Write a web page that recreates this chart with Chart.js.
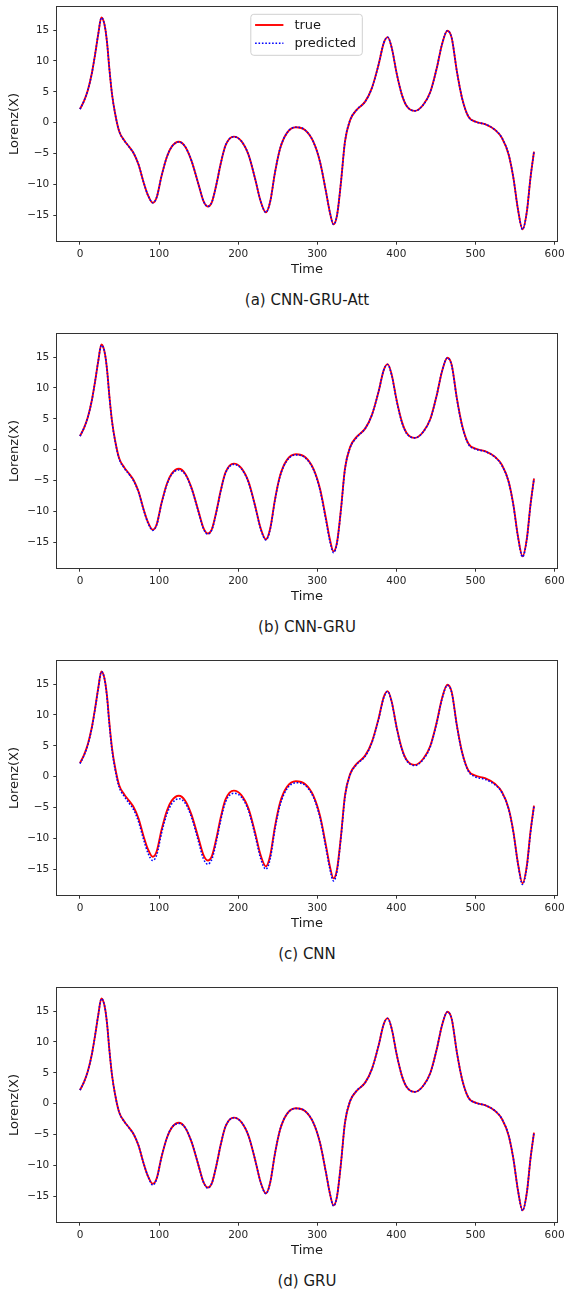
<!DOCTYPE html>
<html>
<head>
<meta charset="utf-8">
<script src="https://cdn.jsdelivr.net/npm/chart.js@4.4.0/dist/chart.umd.min.js"></script>
<style>
html,body{margin:0;padding:0;background:#fff;}
body{width:565px;height:1290px;position:relative;overflow:hidden;font-family:"DejaVu Sans",sans-serif;}
.panel{position:absolute;left:0;width:565px;height:327px;}
.panel canvas{position:absolute;left:0;top:0;}
.cap{position:absolute;left:57px;width:500px;text-align:center;top:291px;font-size:15px;line-height:18px;color:#1a1a1a;}
</style>
</head>
<body>
<div class="panel" style="top:0px"><canvas id="c0" width="565" height="285"></canvas><div class="cap" id="cap0"></div></div>
<div class="panel" style="top:327px"><canvas id="c1" width="565" height="285"></canvas><div class="cap" id="cap1"></div></div>
<div class="panel" style="top:654px"><canvas id="c2" width="565" height="285"></canvas><div class="cap" id="cap2"></div></div>
<div class="panel" style="top:981px"><canvas id="c3" width="565" height="285"></canvas><div class="cap" id="cap3"></div></div>
<script>
// ---- data ----
const T = [
  0, 5, 10, 15, 19, 23, 27, 29.5, 32, 34.5,
  37, 40.5, 44.5, 49.5, 56, 62, 68, 74, 80, 86,
  92, 97, 103, 110, 116, 125, 133, 141, 150, 156,
  161.5, 167, 173, 178, 184, 194.5, 204, 213, 221, 228.5,
  235, 240.5, 246.5, 253, 261.5, 273, 284.5, 295, 303.5, 311,
  316, 320.5, 325, 330, 335, 341.5, 350, 360.5, 369, 377.5,
  384, 389, 394, 400.5, 407, 413, 423.5, 434, 443, 451,
  457.5, 464.5, 470, 476.5, 483, 491, 500, 512, 525, 533.5,
  542, 548, 553.5, 559.5, 565, 569.5, 574
];
const trueX = [
  2.2, 3.5, 5.3, 8.0, 11.0, 14.3, 17.05, 16.6, 15.2, 12.6,
  8.9, 4.6, 1.4, -1.4, -2.9, -3.9, -5.0, -6.8, -9.5, -11.8,
  -13.0, -12.1, -8.7, -5.5, -3.9, -3.1, -3.9, -6.2, -10.1, -12.7,
  -13.6, -12.8, -9.7, -6.6, -3.7, -2.27, -3.0, -5.2, -8.9, -12.8,
  -14.55, -12.8, -8.1, -4.2, -1.7, -0.75, -1.2, -3.1, -6.4, -11.2,
  -14.6, -16.5, -15.0, -9.6, -3.1, 0.4, 2.1, 3.4, 5.6, 9.4,
  12.9, 13.86, 12.2, 7.9, 4.5, 2.7, 1.9, 2.9, 5.0, 8.8,
  12.6, 14.9, 13.7, 8.3, 4.0, 1.0, 0.15, -0.25, -1.2, -2.5,
  -5.2, -9.0, -13.9, -17.3, -14.4, -9.0, -4.7
];
const predAtt = [
  2.2, 3.5, 5.3, 8.0, 11.0, 14.3, 17.0, 16.6, 15.2, 12.6,
  8.9, 4.6, 1.4, -1.4, -2.9, -3.9, -5.0, -6.8, -9.5, -11.8,
  -13.0, -12.1, -8.7, -5.5, -3.9, -3.15, -3.9, -6.2, -10.1, -12.7,
  -13.6, -12.8, -9.7, -6.6, -3.7, -2.3, -3.0, -5.2, -8.9, -12.8,
  -14.55, -12.8, -8.1, -4.2, -1.7, -0.75, -1.2, -3.1, -6.4, -11.2,
  -14.6, -16.5, -15.0, -9.6, -3.1, 0.4, 2.1, 3.4, 5.6, 9.4,
  12.9, 13.85, 12.2, 7.9, 4.5, 2.7, 1.9, 2.9, 5.0, 8.8,
  12.6, 14.9, 13.7, 8.3, 4.0, 1.0, 0.15, -0.25, -1.2, -2.5,
  -5.2, -9.0, -13.9, -17.3, -14.4, -9.0, -4.7
];
const predCnnGru = [
  2.2, 3.5, 5.3, 8.0, 11.0, 14.3, 16.9, 16.6, 15.2, 12.5,
  8.8, 4.5, 1.3, -1.5, -3.0, -4.0, -5.1, -6.9, -9.6, -11.9,
  -13.1, -12.2, -8.8, -5.6, -4.0, -3.3, -4.0, -6.3, -10.2, -12.8,
  -13.7, -12.9, -9.8, -6.7, -3.8, -2.4, -3.1, -5.3, -9.0, -12.9,
  -14.65, -12.9, -8.2, -4.3, -1.8, -0.85, -1.3, -3.2, -6.6, -11.5,
  -14.9, -16.7, -15.1, -9.7, -3.2, 0.3, 2.0, 3.4, 5.6, 9.4,
  12.9, 13.8, 12.1, 7.8, 4.4, 2.6, 1.9, 2.9, 5.0, 8.8,
  12.6, 14.85, 13.6, 8.2, 3.9, 0.9, 0.1, -0.3, -1.25, -2.6,
  -5.3, -9.1, -14.0, -17.4, -14.5, -9.1, -4.7
];
const predCnn = [
  2.1, 3.4, 5.2, 7.9, 10.9, 14.2, 17.0, 16.6, 15.1, 12.4,
  8.6, 4.3, 1.1, -1.7, -3.2, -4.3, -5.4, -7.3, -10.0, -12.4,
  -13.6, -12.7, -9.2, -6.0, -4.4, -3.6, -4.3, -6.6, -10.6, -13.3,
  -14.2, -13.3, -10.1, -7.0, -4.1, -2.7, -3.3, -5.5, -9.3, -13.3,
  -15.0, -13.3, -8.5, -4.6, -2.0, -1.0, -1.4, -3.3, -6.7, -11.6,
  -15.0, -16.9, -15.3, -9.8, -3.3, 0.3, 2.0, 3.3, 5.5, 9.3,
  12.8, 13.8, 12.1, 7.8, 4.4, 2.6, 1.8, 2.8, 4.9, 8.7,
  12.5, 14.8, 13.6, 8.2, 3.9, 0.9, -0.05, -0.45, -1.35, -2.6,
  -5.3, -9.1, -14.0, -17.5, -14.6, -9.2, -4.8
];
const predGru = [
  2.2, 3.5, 5.3, 8.0, 11.0, 14.3, 17.0, 16.6, 15.2, 12.6,
  8.9, 4.6, 1.4, -1.4, -2.9, -3.9, -5.0, -6.8, -9.5, -11.8,
  -13.2, -12.2, -8.7, -5.5, -3.9, -3.2, -3.9, -6.2, -10.1, -12.7,
  -13.7, -12.8, -9.7, -6.6, -3.7, -2.3, -3.0, -5.2, -8.9, -12.8,
  -14.6, -12.8, -8.1, -4.2, -1.7, -0.8, -1.2, -3.1, -6.4, -11.2,
  -14.6, -16.6, -15.0, -9.6, -3.1, 0.4, 2.1, 3.4, 5.6, 9.4,
  12.9, 13.8, 12.2, 7.9, 4.5, 2.7, 1.9, 2.9, 5.0, 8.8,
  12.6, 14.85, 13.7, 8.3, 4.0, 1.0, 0.15, -0.25, -1.2, -2.5,
  -5.2, -9.0, -13.9, -17.35, -14.4, -9.0, -4.7
];
const xTicks = [0, 100, 200, 300, 400, 500, 600];
const yTicks = [-15, -10, -5, 0, 5, 10, 15];
const captions = ['(a) CNN-GRU-Att', '(b) CNN-GRU', '(c) CNN', '(d) GRU'];
const seriesLabels = ['true', 'predicted'];
const xTitle = 'Time';
const yTitle = 'Lorenz(X)';
const predictions = [predAtt, predCnnGru, predCnn, predGru];

// ---- drawing ----
const FONT = '"DejaVu Sans", sans-serif';
const fmt = v => (v < 0 ? '\u2212' + Math.abs(v) : String(v));

const framePlugin = {
  id: 'frame',
  afterDatasetsDraw(chart) {
    const {ctx, chartArea: a} = chart;
    ctx.save();
    ctx.strokeStyle = '#333';
    ctx.lineWidth = 1;
    ctx.strokeRect(Math.round(a.left) - 0.5, Math.round(a.top) - 0.5,
      Math.round(a.right) - Math.round(a.left) + 1, Math.round(a.bottom) - Math.round(a.top) + 1);
    ctx.restore();
  }
};

const boxLegendPlugin = {
  id: 'boxLegend',
  afterDraw(chart, args, opts) {
    if (!opts.show) return;
    const {ctx, chartArea: a} = chart;
    const left = a.left + 193.5, top = a.top + 7, w = 111.5, h = 41;
    ctx.save();
    ctx.beginPath();
    const r = 3;
    ctx.moveTo(left + r, top);
    ctx.arcTo(left + w, top, left + w, top + h, r);
    ctx.arcTo(left + w, top + h, left, top + h, r);
    ctx.arcTo(left, top + h, left, top, r);
    ctx.arcTo(left, top, left + w, top, r);
    ctx.closePath();
    ctx.fillStyle = 'rgba(255,255,255,0.8)';
    ctx.fill();
    ctx.strokeStyle = '#d0d0d0';
    ctx.lineWidth = 1;
    ctx.stroke();
    const rows = [top + 10.7, top + 29];
    chart.data.datasets.forEach((ds, i) => {
      const y = rows[i];
      ctx.beginPath();
      ctx.setLineDash(ds.borderDash || []);
      ctx.strokeStyle = ds.borderColor;
      ctx.lineWidth = ds.borderWidth;
      ctx.moveTo(left + 4.3, y);
      ctx.lineTo(left + 32.6, y);
      ctx.stroke();
      ctx.setLineDash([]);
      ctx.fillStyle = '#1a1a1a';
      ctx.font = '13px ' + FONT;
      ctx.textBaseline = 'middle';
      ctx.textAlign = 'left';
      ctx.fillText(ds.label, left + 43.6, y + 0.5);
    });
    ctx.restore();
  }
};

function makeChart(idx) {
  const pred = predictions[idx];
  document.getElementById('cap' + idx).textContent = captions[idx];
  const ctx = document.getElementById('c' + idx);
  return new Chart(ctx, {
    type: 'line',
    data: {
      datasets: [
        {
          label: seriesLabels[0],
          data: T.map((t, i) => ({x: t, y: trueX[i]})),
          borderColor: '#ff0000',
          borderWidth: 1.9,
          pointRadius: 0,
          cubicInterpolationMode: 'monotone',
          fill: false,
          order: 2
        },
        {
          label: seriesLabels[1],
          data: T.map((t, i) => ({x: t, y: pred[i]})),
          borderColor: '#0000ff',
          borderWidth: 1.6,
          borderDash: [1.6, 1.8],
          pointRadius: 0,
          cubicInterpolationMode: 'monotone',
          fill: false,
          order: 1
        }
      ]
    },
    options: {
      responsive: false,
      animation: false,
      devicePixelRatio: 1,
      events: [],
      layout: {padding: {top: 7.3, right: 8.3, bottom: 0, left: 0}},
      plugins: {
        legend: {display: false},
        tooltip: {enabled: false},
        boxLegend: {show: idx === 0}
      },
      scales: {
        x: {
          type: 'linear',
          min: -28.7,
          max: 602.7,
          border: {display: false},
          grid: {display: true, drawOnChartArea: false, drawTicks: true, tickLength: 4, color: '#333', tickWidth: 1},
          ticks: {
            includeBounds: false, maxRotation: 0, autoSkip: false,
            padding: 3, color: '#262626', font: {family: FONT, size: 10.5},
            callback: v => fmt(v)
          },
          afterBuildTicks: s => { s.ticks = xTicks.map(v => ({value: v})); },
          afterFit: s => { s.height = 44.3; s.paddingLeft = 0; s.paddingRight = 0; },
          title: {display: true, text: xTitle, color: '#1a1a1a', font: {family: FONT, size: 13}, padding: {top: 0, bottom: 7.8}}
        },
        y: {
          type: 'linear',
          min: -19.15,
          max: 18.7,
          border: {display: false},
          grid: {display: true, drawOnChartArea: false, drawTicks: true, tickLength: 4, color: '#333', tickWidth: 1},
          ticks: {
            includeBounds: false, autoSkip: false,
            padding: 4, color: '#262626', font: {family: FONT, size: 10.5},
            callback: v => fmt(v)
          },
          afterBuildTicks: s => { s.ticks = yTicks.map(v => ({value: v})); },
          afterFit: s => { s.width = 57.3; s.paddingTop = 0; s.paddingBottom = 0; },
          title: {display: true, text: yTitle, color: '#1a1a1a', font: {family: FONT, size: 13}, padding: {top: 7.2, bottom: 0}}
        }
      }
    },
    plugins: [framePlugin, boxLegendPlugin]
  });
}
[0, 1, 2, 3].forEach(makeChart);
</script>
</body>
</html>
